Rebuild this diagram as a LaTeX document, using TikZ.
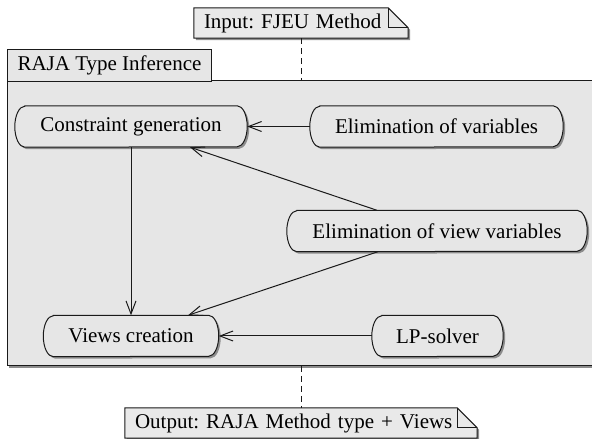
\documentclass[tikz,border=0pt]{standalone}
\usepackage{fontspec}
\setmainfont{Liberation Serif}
\usetikzlibrary{arrows.meta,calc}
\pgfdeclarelayer{framelayer}
\pgfdeclarelayer{shapelayer}
\pgfsetlayers{framelayer,shapelayer,main}
\definecolor{boxfill}{HTML}{E6E6E6}
\definecolor{framefill}{HTML}{E6E6E6}
\definecolor{notefill}{HTML}{E9E9E9}
\definecolor{linec}{HTML}{1A1A1A}
\definecolor{shadowc}{HTML}{8C8C8C}
\newcommand\bigfont{\fontsize{21}{25}\selectfont\frenchspacing}
\tikzset{
  txt/.style={inner sep=0pt, minimum height=41pt, font=\bigfont},
  notestyle/.style={inner xsep=10pt, inner ysep=0pt, minimum height=30pt, align=left, font=\bigfont},
  tabstyle/.style={draw=linec, line width=1pt, fill=framefill, inner xsep=10pt, inner ysep=0pt, minimum height=32pt, font=\bigfont},
  arr/.style={draw=linec, line width=1pt, -{Straight Barb[length=13pt,width=10pt]}},
  dashline/.style={draw=linec, line width=1pt, dash pattern=on 6pt off 4pt},
  outline/.style={draw=linec, line width=1pt}
}
\newcommand\capsulepath[1]{([xshift=10pt]#1.north west) -- ([xshift=-10pt]#1.north east) arc[start angle=90,end angle=-90,x radius=10pt,y radius=20.5pt] -- ([xshift=10pt]#1.south west) arc[start angle=270,end angle=90,x radius=10pt,y radius=20.5pt] -- cycle}
\newcommand\capsule[1]{%
  \begin{pgfonlayer}{shapelayer}
    \begin{scope}[transform canvas={xshift=2pt,yshift=-2pt}]
      \fill[shadowc] \capsulepath{#1};
    \end{scope}
    \draw[outline, fill=boxfill] \capsulepath{#1};
  \end{pgfonlayer}}
\newcommand\notepath[1]{(#1.north west) -- ([xshift=-20pt]#1.north east) -- ([yshift=-20pt]#1.north east) -- (#1.south east) -- (#1.south west) -- cycle}
\newcommand\notebox[1]{%
  \begin{pgfonlayer}{shapelayer}
    \begin{scope}[transform canvas={xshift=2pt,yshift=-2pt}]
      \fill[shadowc] \notepath{#1};
    \end{scope}
    \draw[outline, fill=notefill] \notepath{#1};
    \draw[outline] ([xshift=-20pt]#1.north east) -- ([xshift=-20pt,yshift=-20pt]#1.north east) -- ([yshift=-20pt]#1.north east);
  \end{pgfonlayer}}
\begin{document}
\begin{tikzpicture}[x=1pt,y=1pt]
\useasboundingbox (0,0) rectangle (592,439);
% frame body
\begin{pgfonlayer}{framelayer}
  \fill[shadowc] (9,71) rectangle (602,356);
  \draw[outline, fill=framefill] (7,73) rectangle (600,358);
\end{pgfonlayer}
\node[tabstyle, anchor=north west] (tab) at (7,390) {RAJA Type Inference};
\coordinate (ftop) at (301,358);
\coordinate (fbot) at (301,73);
% notes
\node[notestyle, text width=194pt] (in) at (301,416) {Input: FJEU Method};
\node[notestyle, text width=332pt] (out) at (301,16) {Output: RAJA Method type + Views};
\notebox{in}
\notebox{out}
% activities
\node[txt, minimum width=232pt] (cg) at (131,312.5) {Constraint generation};
\node[txt, minimum width=253pt] (ev) at (436.5,312.5) {Elimination of variables};
\node[txt, minimum width=300pt] (evv) at (437,208) {Elimination of view variables};
\node[txt, minimum width=175pt] (vc) at (131,103) {Views creation};
\node[txt, minimum width=131pt] (lp) at (437.5,103) {LP-solver};
\capsule{cg}
\capsule{ev}
\capsule{evv}
\capsule{vc}
\capsule{lp}
% connectors
\draw[arr] (ev.west) -- (cg.east);
\draw[arr] ([xshift=-60pt]evv.north) -- ([xshift=59pt]cg.south);
\draw[arr] ([xshift=-59pt]evv.south) -- ([xshift=57pt]vc.north);
\draw[arr] (cg.south) -- (vc.north);
\draw[arr] (lp.west) -- (vc.east);
\draw[dashline] (in.south) -- (ftop);
\draw[dashline] (fbot) -- (out.north);
\end{tikzpicture}
\end{document}
